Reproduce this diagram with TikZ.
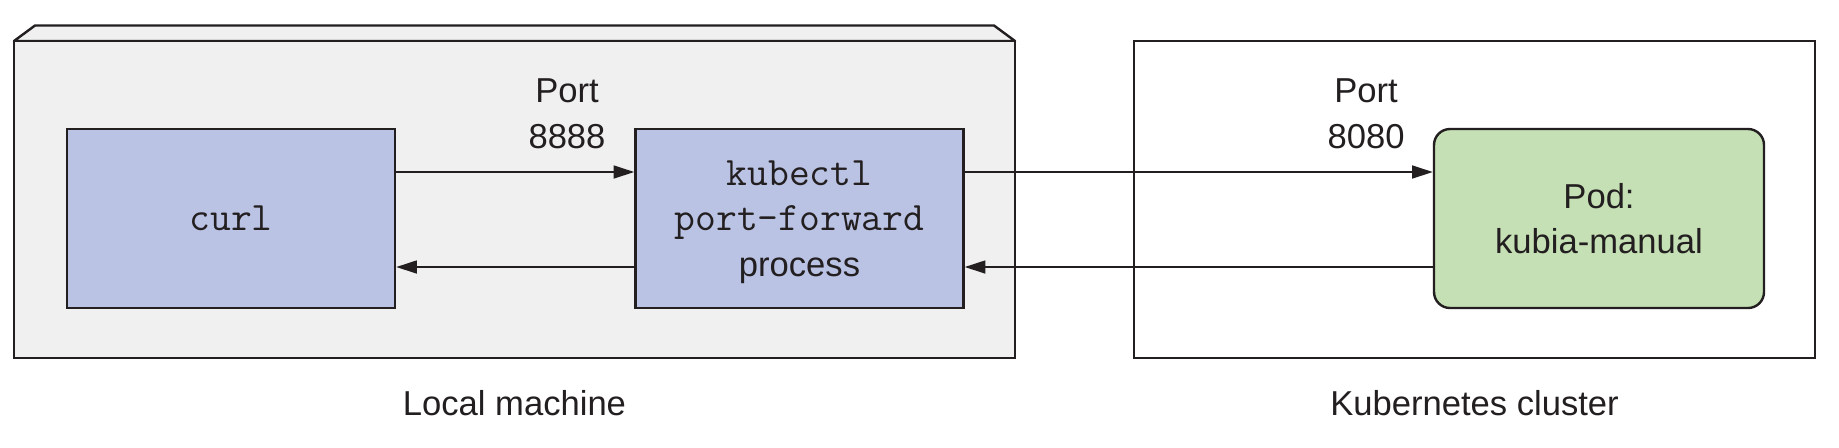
\documentclass[tikz,border=0pt]{standalone}
\usepackage{fontspec}
\setmainfont{Liberation Sans}
\usetikzlibrary{arrows.meta}
\definecolor{inkdark}{RGB}{35,31,32}
\definecolor{machinegray}{RGB}{240,240,240}
\definecolor{procblue}{RGB}{186,195,228}
\definecolor{podgreen}{RGB}{197,224,180}
\newcommand{\cmdtext}[1]{{\fontsize{20.2}{23}\selectfont\ttfamily #1}}
\tikzset{
	lbl/.style={inner sep=0pt,align=center,text=inkdark,font=\fontsize{17.3}{22.8}\selectfont},
	procbox/.style={lbl,draw=inkdark,line width=1.2pt,fill=procblue,minimum width=164pt,minimum height=89.5pt},
	podbox/.style={procbox,fill=podgreen,rounded corners=8pt,minimum width=165pt},
	hostbox/.style={draw=inkdark,line width=1.2pt,minimum height=158.5pt,inner sep=0pt},
	flow/.style={draw=inkdark,line width=1pt,-{Triangle[length=10.3pt,width=6.4pt]}}
}
\begin{document}
\begin{tikzpicture}[x=0.5pt,y=0.5pt,yscale=-1,xscale=1]
	\useasboundingbox (0,0) rectangle (1839,447);
	\draw [draw=inkdark,fill=machinegray,line width=1.2pt,line join=round] (14,41) -- (35,25.5) -- (994,25.5) -- (1015,41) -- cycle ;
	\node [hostbox,fill=machinegray,minimum width=500.5pt] (machine) at (514.5,199.5) {};
	\node [hostbox,fill=white,minimum width=340.5pt] (cluster) at (1474.5,199.5) {};

	\node [procbox] (curl) at (231,218.5) {\cmdtext{curl}};
	\node [procbox] (fwd) at (799.5,218.5) {};
	\node [lbl] (fwdtext) at (799.5,222) {\cmdtext{kubectl}\\\cmdtext{port-forward}\\process};
	\node [podbox] (pod) at (1599,218.5) {Pod:\\kubia-manual};

	\node [lbl] (port8888) at (567,114) {Port\\8888};
	\node [lbl] (port8080) at (1366,114) {Port\\8080};
	\node [lbl] (machinelbl) at (514.5,403) {Local machine};
	\node [lbl] (clusterlbl) at (1474.5,403) {Kubernetes cluster};

	\coordinate (toprow) at (0,172);
	\coordinate (botrow) at (0,267);
	\draw [flow] (curl.east |- toprow) -- (fwd.west |- toprow);
	\draw [flow] (fwd.west |- botrow) -- (curl.east |- botrow);
	\draw [flow] (fwd.east |- toprow) -- (pod.west |- toprow);
	\draw [flow] (pod.west |- botrow) -- (fwd.east |- botrow);
\end{tikzpicture}
\end{document}
